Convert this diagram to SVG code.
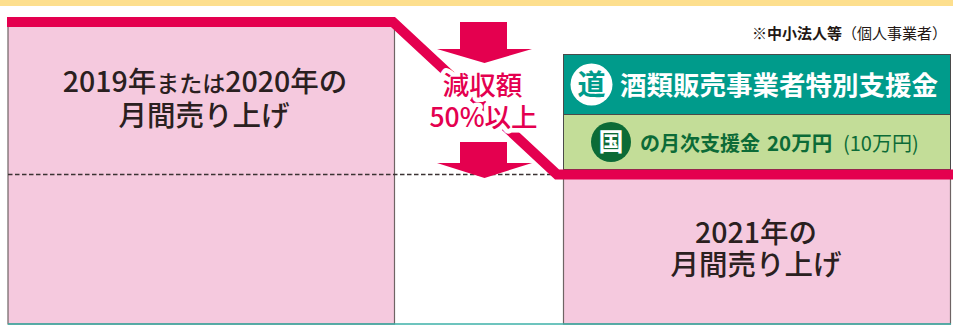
<svg xmlns="http://www.w3.org/2000/svg" width="953" height="325" viewBox="0 0 953 325">
<style>
text{font-family:"Noto Sans CJK JP","Noto Sans",sans-serif}
.box{stroke:#6e6464;stroke-width:1.2}
.pink{fill:#f5c9de}
.dark{fill:#2a2020}
.red{fill:#e4004f}
.lbl{font-size:28.5px;font-weight:500;text-anchor:middle}
.cut{font-size:26.5px;font-weight:500;text-anchor:middle;fill:#e4004f;stroke:#fff;stroke-width:9;stroke-linejoin:round;paint-order:stroke}
</style>
<rect x="0" y="0" width="953" height="6" fill="#fddf8e"/>
<g id="left-box">
<rect class="box pink" x="8" y="22" width="386.5" height="302"/>
<text class="lbl dark" x="205" y="92">2019年<tspan font-size="23">または</tspan>2020年の</text>
<text class="lbl dark" x="204" y="126">月間売り上げ</text>
</g>
<g id="right-box">
<rect class="box pink" x="563.5" y="174" width="387" height="150"/>
<text class="lbl dark" x="756" y="243">2021年の</text>
<text class="lbl dark" x="756" y="275">月間売り上げ</text>
</g>
<g id="note">
<text x="947" y="39" font-size="15" fill="#231815" text-anchor="end"><tspan font-weight="bold">※中小法人等</tspan>（個人事業者）</text>
</g>
<g id="teal-box">
<rect x="563.5" y="54.5" width="387" height="60" fill="#009b8b" stroke="#4a4a4a" stroke-width="1"/>
<circle cx="591.5" cy="84.5" r="21" fill="#fff"/>
<text x="591.5" y="95" font-size="28" font-weight="bold" fill="#009b8b" text-anchor="middle">道</text>
<text x="620" y="95" font-size="26.5" font-weight="bold" fill="#fff">酒類販売事業者特別支援金</text>
</g>
<g id="green-box">
<rect x="563.5" y="114.5" width="387" height="55" fill="#c3dd98" stroke="#4a4a4a" stroke-width="1"/>
<circle cx="611" cy="142" r="20" fill="#0c6b37"/>
<text x="611" y="151" font-size="25" font-weight="bold" fill="#fff" text-anchor="middle">国</text>
<text x="640" y="151" font-size="20" font-weight="bold" fill="#0c6b37">の月次支援金</text>
<text x="767" y="151" font-size="20.5" font-weight="bold" fill="#0c6b37">20万円</text>
<text x="843" y="151" font-size="20" fill="#0c6b37">(10万円)</text>
</g>
<g id="connectors">
<line x1="8" y1="174.5" x2="556" y2="174.5" stroke="#3b3333" stroke-width="1.3" stroke-dasharray="4.5 2.5"/>
<line x1="8" y1="324" x2="951" y2="324" stroke="#3cb0a8" stroke-width="1.5"/>
<polyline points="7,22 393,22 557,174.5 953,174.5" fill="none" stroke="#e4004f" stroke-width="10" stroke-linejoin="miter"/>
<polygon class="red" points="460,22 507,22 507,49 532,49 484.5,63 437,49 460,49"/>
<polygon class="red" points="460,142 507,142 507,163 532,163 484.5,178 437,163 460,163"/>
</g>
<g id="reduction-label">
<text class="cut" x="482.5" y="95">減収額</text>
<text class="cut" x="483.5" y="127">50%以上</text>
</g>
</svg>
